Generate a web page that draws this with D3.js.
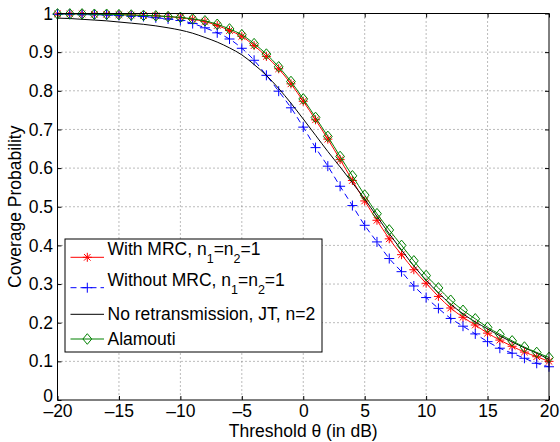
<!DOCTYPE html>
<html>
<head>
<meta charset="utf-8">
<script src="https://cdn.jsdelivr.net/npm/d3@7"></script>
<style>
  body { margin: 0; background: #fff; }
  svg text { font-family: "Liberation Sans", Arial, sans-serif; fill: #000; }
</style>
</head>
<body>
<svg id="chart" width="560" height="442"></svg>
<script>
// threshold values (dB) where every curve was sampled
const thresholds = [-20, -19, -18, -17, -16, -15, -14, -13, -12, -11, -10, -9, -8, -7, -6, -5, -4, -3, -2, -1,
    0, 1, 2, 3, 4, 5, 6, 7, 8, 9, 10, 11, 12, 13, 14, 15, 16, 17, 18, 19, 20];

// coverage probability
const withMRC = [0.999, 0.999, 0.999, 0.998, 0.998, 0.997, 0.996, 0.995, 0.994, 0.992, 0.989, 0.985, 0.979, 0.969, 0.956, 0.941, 0.917, 0.889, 0.857, 0.818,
    0.773, 0.725, 0.675, 0.622, 0.568, 0.515, 0.465, 0.417, 0.376, 0.337, 0.302, 0.268, 0.238, 0.214, 0.194, 0.173, 0.155, 0.139, 0.124, 0.112, 0.100];
const withoutMRC = [0.998, 0.998, 0.997, 0.997, 0.996, 0.995, 0.993, 0.992, 0.989, 0.986, 0.982, 0.974, 0.963, 0.950, 0.934, 0.910, 0.879, 0.840, 0.799, 0.756,
    0.706, 0.653, 0.605, 0.553, 0.503, 0.452, 0.409, 0.366, 0.332, 0.295, 0.265, 0.237, 0.211, 0.191, 0.171, 0.151, 0.134, 0.121, 0.108, 0.095, 0.086];
const noRetransmission = [0.988, 0.987, 0.985, 0.983, 0.981, 0.978, 0.975, 0.972, 0.968, 0.963, 0.957, 0.949, 0.938, 0.926, 0.911, 0.893, 0.868, 0.840, 0.806, 0.768,
    0.727, 0.685, 0.643, 0.603, 0.562, 0.520, 0.475, 0.430, 0.388, 0.347, 0.310, 0.277, 0.248, 0.223, 0.202, 0.184, 0.166, 0.150, 0.135, 0.121, 0.105];
const alamouti = [0.999, 0.999, 0.999, 0.998, 0.998, 0.997, 0.996, 0.995, 0.994, 0.992, 0.990, 0.986, 0.981, 0.972, 0.960, 0.945, 0.922, 0.895, 0.862, 0.824,
    0.779, 0.731, 0.682, 0.630, 0.580, 0.530, 0.482, 0.440, 0.400, 0.360, 0.322, 0.290, 0.258, 0.232, 0.210, 0.188, 0.170, 0.153, 0.137, 0.123, 0.110];

// ticks
const xTicks = [-20, -15, -10, -5, 0, 5, 10, 15, 20];
const xTickLabels = ["\u201320", "\u201315", "\u201310", "\u20135", "0", "5", "10", "15", "20"];
const yTicks = [0, 0.1, 0.2, 0.3, 0.4, 0.5, 0.6, 0.7, 0.8, 0.9, 1];
const yTickLabels = ["0", "0.1", "0.2", "0.3", "0.4", "0.5", "0.6", "0.7", "0.8", "0.9", "1"];

const fontSize = 17.5;

const svg = d3.select("#chart");

// plot box
const boxLeft = 57.5, boxRight = 549, boxTop = 13.5, boxBottom = 400;

const x = d3.scaleLinear().domain([-20, 20]).range([boxLeft, boxRight]);
const y = d3.scaleLinear().domain([0, 1]).range([boxBottom, boxTop]);

// dotted grid
const grid = svg.append("g").attr("class", "grid");
grid.selectAll("line.gx")
    .data(xTicks.slice(1, -1))
    .enter().append("line")
    .attr("class", "gx")
    .attr("x1", d => x(d)).attr("x2", d => x(d))
    .attr("y1", boxTop).attr("y2", boxBottom);
grid.selectAll("line.gy")
    .data(yTicks.slice(1, -1))
    .enter().append("line")
    .attr("class", "gy")
    .attr("y1", d => y(d)).attr("y2", d => y(d))
    .attr("x1", boxLeft).attr("x2", boxRight);
grid.selectAll("line")
    .attr("stroke", "#777")
    .attr("stroke-width", 1)
    .attr("stroke-dasharray", "1,3");

// axes, ticks point inwards like matlab
const xAxis = d3.axisBottom(x).tickValues(xTicks).tickSizeInner(-4).tickSizeOuter(0)
    .tickPadding(5).tickFormat((d, i) => xTickLabels[i]);
const yAxis = d3.axisLeft(y).tickValues(yTicks).tickSizeInner(-4).tickSizeOuter(0)
    .tickPadding(4.5).tickFormat((d, i) => yTickLabels[i]);

const gx = svg.append("g").attr("transform", `translate(0,${boxBottom})`).call(xAxis);
const gy = svg.append("g").attr("transform", `translate(${boxLeft},0)`).call(yAxis);
svg.append("g").attr("transform", `translate(0,${boxTop})`)
    .call(d3.axisTop(x).tickValues(xTicks).tickSizeInner(-4).tickSizeOuter(0).tickFormat(""));
svg.append("g").attr("transform", `translate(${boxRight},0)`)
    .call(d3.axisRight(y).tickValues(yTicks).tickSizeInner(-4).tickSizeOuter(0).tickFormat(""));

svg.selectAll(".domain").remove();
svg.selectAll(".tick line").attr("stroke", "#000");
[gx, gy].forEach(g => g.selectAll("text")
    .style("font-size", fontSize + "px")
    .style("font-family", "'Liberation Sans', Arial, sans-serif")
    .attr("fill", "#000"));
// the "0" label sits a bit higher so it clears "-20"
gy.selectAll(".tick text").filter(d => d === 0).attr("dy", "0.1em");

// axis labels
svg.append("text")
    .attr("x", (boxLeft + boxRight) / 2).attr("y", 437)
    .attr("text-anchor", "middle")
    .style("font-size", fontSize + "px")
    .text("Threshold \u03b8 (in dB)");
svg.append("text")
    .attr("transform", `translate(21,${(boxTop + boxBottom) / 2}) rotate(-90)`)
    .attr("text-anchor", "middle")
    .style("font-size", fontSize + "px")
    .text("Coverage Probability");

// series setup
const series = [
    { name: "withMRC", values: withMRC, color: "#ff0000", dash: null, marker: "star" },
    { name: "withoutMRC", values: withoutMRC, color: "#0000ff", dash: "6,4", marker: "plus" },
    { name: "noRetx", values: noRetransmission, color: "#000000", dash: null, marker: null },
    { name: "alamouti", values: alamouti, color: "#008000", dash: null, marker: "diamond" }
];

const markerPaths = {
    star: "M-4.5,0H4.5M0,-4.5V4.5M-3.3,-3.3L3.3,3.3M-3.3,3.3L3.3,-3.3",
    plus: "M-5,0H5M0,-5V5",
    diamond: "M0,-5.3L4.4,0L0,5.3L-4.4,0Z"
};

const line = d3.line()
    .x((d, i) => x(thresholds[i]))
    .y(d => y(d))
    .curve(d3.curveMonotoneX);

const plot = svg.append("g");

series.forEach(s => {
    plot.append("path")
        .datum(s.values)
        .attr("d", line)
        .attr("fill", "none")
        .attr("stroke", s.color)
        .attr("stroke-width", 1)
        .attr("stroke-dasharray", s.dash);

    if (s.marker) {
        plot.selectAll("path.m-" + s.name)
            .data(s.values)
            .enter().append("path")
            .attr("class", "m-" + s.name)
            .attr("transform", (d, i) => `translate(${x(thresholds[i])},${y(d)})`)
            .attr("d", markerPaths[s.marker])
            .attr("fill", "none")
            .attr("stroke", s.color)
            .attr("stroke-width", 1);
    }
});

// box on top
svg.append("rect")
    .attr("x", boxLeft).attr("y", boxTop)
    .attr("width", boxRight - boxLeft).attr("height", boxBottom - boxTop)
    .attr("fill", "none").attr("stroke", "#000").attr("stroke-width", 1);

// legend
const legend = svg.append("g");
legend.append("rect")
    .attr("x", 65).attr("y", 239).attr("width", 257).attr("height", 113)
    .attr("fill", "#fff").attr("stroke", "#000").attr("stroke-width", 1);

const legendRows = [
    { s: series[0], y: 257.3, sub: true, main: "With MRC, n", rest: "=n" },
    { s: series[1], y: 287.7, sub: true, main: "Without MRC, n", rest: "=n" },
    { s: series[2], y: 314.3, sub: false, label: "No retransmission, JT, n=2" },
    { s: series[3], y: 339, sub: false, label: "Alamouti" }
];

legendRows.forEach(r => {
    legend.append("line")
        .attr("x1", 70.5).attr("x2", 104)
        .attr("y1", r.y).attr("y2", r.y)
        .attr("stroke", r.s.color).attr("stroke-width", 1)
        .attr("stroke-dasharray", r.s.dash);
    if (r.s.marker) {
        legend.append("path")
            .attr("transform", `translate(87.3,${r.y})`)
            .attr("d", markerPaths[r.s.marker])
            .attr("fill", "none").attr("stroke", r.s.color);
    }
    const t = legend.append("text")
        .attr("x", 107.5)
        .style("font-size", fontSize + "px");
    if (r.sub) {
        t.attr("y", r.y - 2);
        t.append("tspan").text(r.main);
        t.append("tspan").attr("dy", 8).style("font-size", "12.5px").text("1");
        t.append("tspan").attr("dy", -8).text(r.rest);
        t.append("tspan").attr("dy", 8).style("font-size", "12.5px").text("2");
        t.append("tspan").attr("dy", -8).text("=1");
    } else {
        t.attr("y", r.y + 6).text(r.label);
    }
});
</script>
</body>
</html>
